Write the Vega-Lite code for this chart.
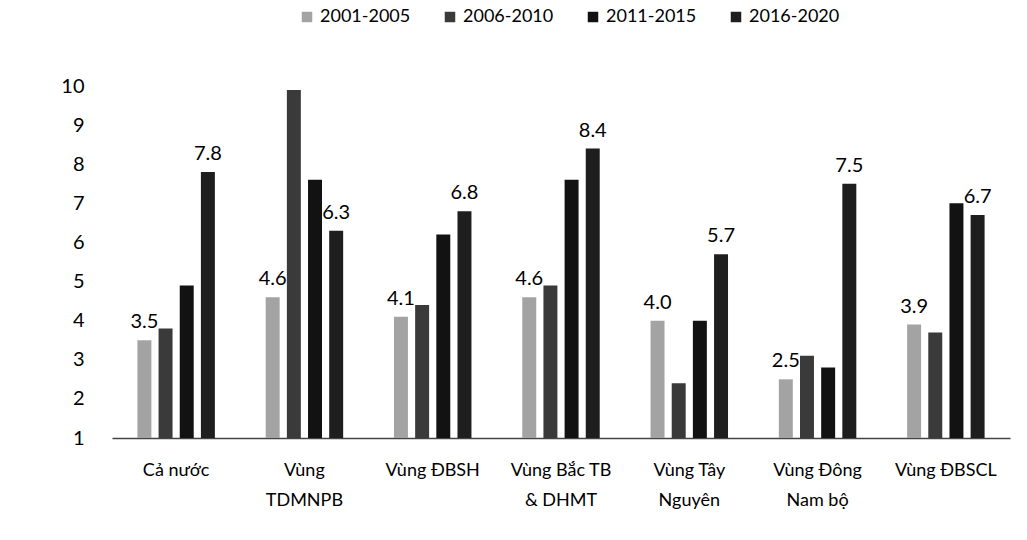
{
  "$schema": "https://vega.github.io/schema/vega-lite/v6.json",
  "autosize": {"type": "none"},
  "padding": {"left": 112, "top": 86, "right": 17, "bottom": 102},
  "width": 898,
  "height": 352,
  "background": "white",
  "config": {
    "font": "Lato",
    "view": {"stroke": null},
    "axis": {"labelFont": "Lato", "labelColor": "#000"},
    "legend": {"labelFont": "Lato", "labelColor": "#000"}
  },
  "data": {
    "values": [
      {"region": "Cả nước", "period": "2001-2005", "value": 3.5},
      {"region": "Cả nước", "period": "2006-2010", "value": 3.8},
      {"region": "Cả nước", "period": "2011-2015", "value": 4.9},
      {"region": "Cả nước", "period": "2016-2020", "value": 7.8},
      {"region": "Vùng TDMNPB", "period": "2001-2005", "value": 4.6},
      {"region": "Vùng TDMNPB", "period": "2006-2010", "value": 9.9},
      {"region": "Vùng TDMNPB", "period": "2011-2015", "value": 7.6},
      {"region": "Vùng TDMNPB", "period": "2016-2020", "value": 6.3},
      {"region": "Vùng ĐBSH", "period": "2001-2005", "value": 4.1},
      {"region": "Vùng ĐBSH", "period": "2006-2010", "value": 4.4},
      {"region": "Vùng ĐBSH", "period": "2011-2015", "value": 6.2},
      {"region": "Vùng ĐBSH", "period": "2016-2020", "value": 6.8},
      {"region": "Vùng Bắc TB & DHMT", "period": "2001-2005", "value": 4.6},
      {"region": "Vùng Bắc TB & DHMT", "period": "2006-2010", "value": 4.9},
      {"region": "Vùng Bắc TB & DHMT", "period": "2011-2015", "value": 7.6},
      {"region": "Vùng Bắc TB & DHMT", "period": "2016-2020", "value": 8.4},
      {"region": "Vùng Tây Nguyên", "period": "2001-2005", "value": 4.0},
      {"region": "Vùng Tây Nguyên", "period": "2006-2010", "value": 2.4},
      {"region": "Vùng Tây Nguyên", "period": "2011-2015", "value": 4.0},
      {"region": "Vùng Tây Nguyên", "period": "2016-2020", "value": 5.7},
      {"region": "Vùng Đông Nam bộ", "period": "2001-2005", "value": 2.5},
      {"region": "Vùng Đông Nam bộ", "period": "2006-2010", "value": 3.1},
      {"region": "Vùng Đông Nam bộ", "period": "2011-2015", "value": 2.8},
      {"region": "Vùng Đông Nam bộ", "period": "2016-2020", "value": 7.5},
      {"region": "Vùng ĐBSCL", "period": "2001-2005", "value": 3.9},
      {"region": "Vùng ĐBSCL", "period": "2006-2010", "value": 3.7},
      {"region": "Vùng ĐBSCL", "period": "2011-2015", "value": 7.0},
      {"region": "Vùng ĐBSCL", "period": "2016-2020", "value": 6.7}
    ]
  },
  "encoding": {
    "x": {
      "field": "region",
      "type": "nominal",
      "sort": null,
      "scale": {"paddingInner": 0.34, "paddingOuter": 0.17},
      "axis": {
        "title": null,
        "labelAngle": 0,
        "ticks": false,
        "domainColor": "#444",
        "domainWidth": 1.5,
        "labelFontSize": 18,
        "labelPadding": 23,
        "labelLineHeight": 30,
        "labelLimit": 200,
        "labelExpr": "datum.value == 'Vùng TDMNPB' ? ['Vùng', 'TDMNPB'] : datum.value == 'Vùng Bắc TB & DHMT' ? ['Vùng Bắc TB', '& DHMT'] : datum.value == 'Vùng Tây Nguyên' ? ['Vùng Tây', 'Nguyên'] : datum.value == 'Vùng Đông Nam bộ' ? ['Vùng Đông', 'Nam bộ'] : datum.value"
      }
    },
    "xOffset": {
      "field": "period",
      "type": "nominal",
      "scale": {"paddingInner": 0.34, "paddingOuter": 0.17}
    },
    "y": {
      "field": "value",
      "type": "quantitative",
      "scale": {"domain": [1, 10], "nice": false, "zero": false},
      "axis": {
        "title": null,
        "domain": false,
        "ticks": false,
        "grid": false,
        "values": [1, 2, 3, 4, 5, 6, 7, 8, 9, 10],
        "labelFontSize": 20,
        "labelPadding": 28
      }
    }
  },
  "layer": [
    {
      "mark": {"type": "bar"},
      "encoding": {
        "y2": {"datum": 1},
        "color": {
          "field": "period",
          "type": "nominal",
          "scale": {
            "domain": ["2001-2005", "2006-2010", "2011-2015", "2016-2020"],
            "range": ["#a3a3a3", "#3a3a3a", "#121212", "#1e1e1e"]
          },
          "legend": {
            "title": null,
            "orient": "none",
            "direction": "horizontal",
            "legendX": 186,
            "legendY": -78,
            "symbolType": "square",
            "symbolSize": 110,
            "labelFontSize": 18,
            "columnPadding": 30,
            "symbolOffset": 0
          }
        }
      }
    },
    {
      "transform": [{"filter": "datum.period == '2001-2005' || datum.period == '2016-2020'"}],
      "mark": {"type": "text", "baseline": "bottom", "dy": -8, "fontSize": 20, "color": "#000"},
      "encoding": {
        "text": {"field": "value", "type": "quantitative", "format": ".1f"}
      }
    }
  ]
}
